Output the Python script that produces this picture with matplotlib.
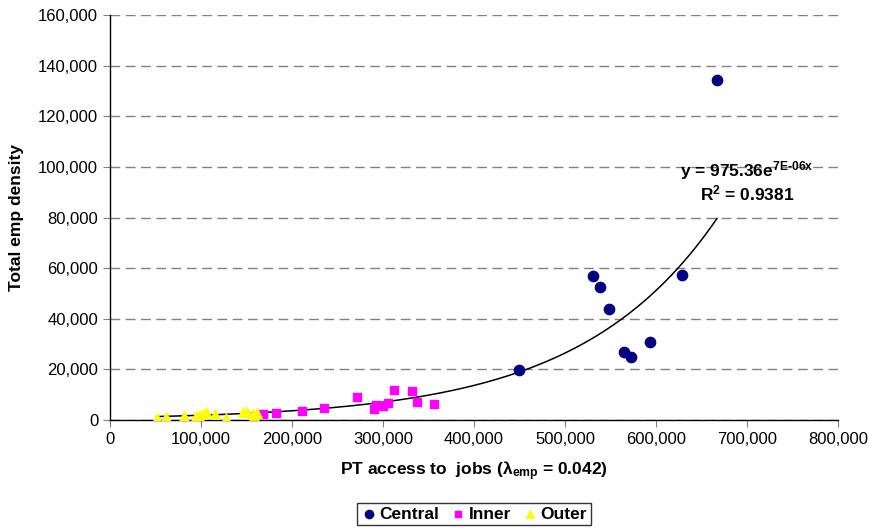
import numpy as np
import matplotlib.pyplot as plt
from matplotlib.ticker import FuncFormatter

plt.rcParams['font.family'] = ['Liberation Sans', 'DejaVu Sans']
plt.rcParams['mathtext.fontset'] = 'custom'
plt.rcParams['mathtext.rm'] = 'Liberation Sans:bold'
plt.rcParams['mathtext.it'] = 'Liberation Sans:bold'
plt.rcParams['mathtext.bf'] = 'Liberation Sans:bold'

# Central zones
central_x = [667000, 530600, 539000, 547900, 449200, 564400, 572000, 593000, 628200]
central_y = [134300, 56900, 52700, 43700, 19750, 26700, 25000, 30900, 57200]

# Inner zones
inner_x = [167600, 182300, 210500, 234700, 271000, 290400, 292200, 299500, 305000,
           311700, 332200, 337300, 356400]
inner_y = [2500, 2640, 3430, 4860, 9090, 4230, 6050, 5650, 6840,
           11730, 11580, 6980, 6200]

# Outer zones
outer_x = [51300, 61200, 81700, 94200, 97900, 101500, 105200, 115500, 128000,
           146300, 151000, 156600, 158700, 162000]
outer_y = [660, 1300, 1580, 1580, 1700, 2250, 3040, 2250, 920,
           3040, 3040, 2250, 2000, 2650]

# trendline as shown on the chart (y = a*e^(b*x)), b
trend_a = 975.36
trend_b = 6.6e-6
trend_start, trend_end = 51300, 667000

fig = plt.figure(figsize=(8.69, 5.28), dpi=100)
ax = fig.add_axes([0.1266, 0.2045, 0.8377, 0.7671])

tx = np.linspace(trend_start, trend_end, 200)
ax.plot(tx, trend_a * np.exp(trend_b * tx), color='black', lw=1.1, zorder=3)

ax.scatter(central_x, central_y, s=55, marker='o', color='#000080', label='Central', zorder=4)
ax.scatter(inner_x, inner_y, s=30, marker='s', color='#FF00FF', label='Inner', zorder=4)
ax.scatter(outer_x, outer_y, s=45, marker='^', color='#FFFF00', label='Outer', zorder=4)

ax.set_xlim(0, 800000)
ax.set_ylim(0, 160000)
ax.set_xticks(np.arange(0, 800001, 100000))
ax.set_yticks(np.arange(0, 160001, 20000))
fmt = FuncFormatter(lambda v, p: f'{int(v):,}')
ax.xaxis.set_major_formatter(fmt)
ax.yaxis.set_major_formatter(fmt)
ax.tick_params(labelsize=12, length=5, color='#808080', direction='out')

ax.yaxis.grid(True, color='#808080', linestyle=(0, (7, 4)), lw=1.0)
ax.set_axisbelow(True)
for s in ['top', 'right']:
    ax.spines[s].set_visible(False)
for s in ['left', 'bottom']:
    ax.spines[s].set_color('black')
    ax.spines[s].set_linewidth(1.0)

ax.set_xlabel(r'PT access to  jobs (λ$_{\mathrm{emp}}$ = 0.042)', fontsize=12.5,
              fontweight='bold', labelpad=9)
ax.set_ylabel('Total emp density', fontsize=12.5, fontweight='bold', labelpad=10)

ax.text(700000, 98500, r'y = 975.36e$^{\text{7E-06x}}$', fontsize=12.5, fontweight='bold',
        ha='center', va='center')
ax.text(700000, 89500, r'R$^{\text{2}}$ = 0.9381', fontsize=12.5, fontweight='bold',
        ha='center', va='center')

leg = fig.legend(loc='center', bbox_to_anchor=(0.545, 0.0265), ncol=3, frameon=True,
                 fancybox=False, edgecolor='black', prop={'weight': 'bold', 'size': 12.5},
                 handletextpad=0.1, columnspacing=0.6, borderpad=0.2, handlelength=1.0,
                 markerscale=0.8)
leg.get_frame().set_linewidth(1.0)

fig.savefig('out.png', dpi=100)
